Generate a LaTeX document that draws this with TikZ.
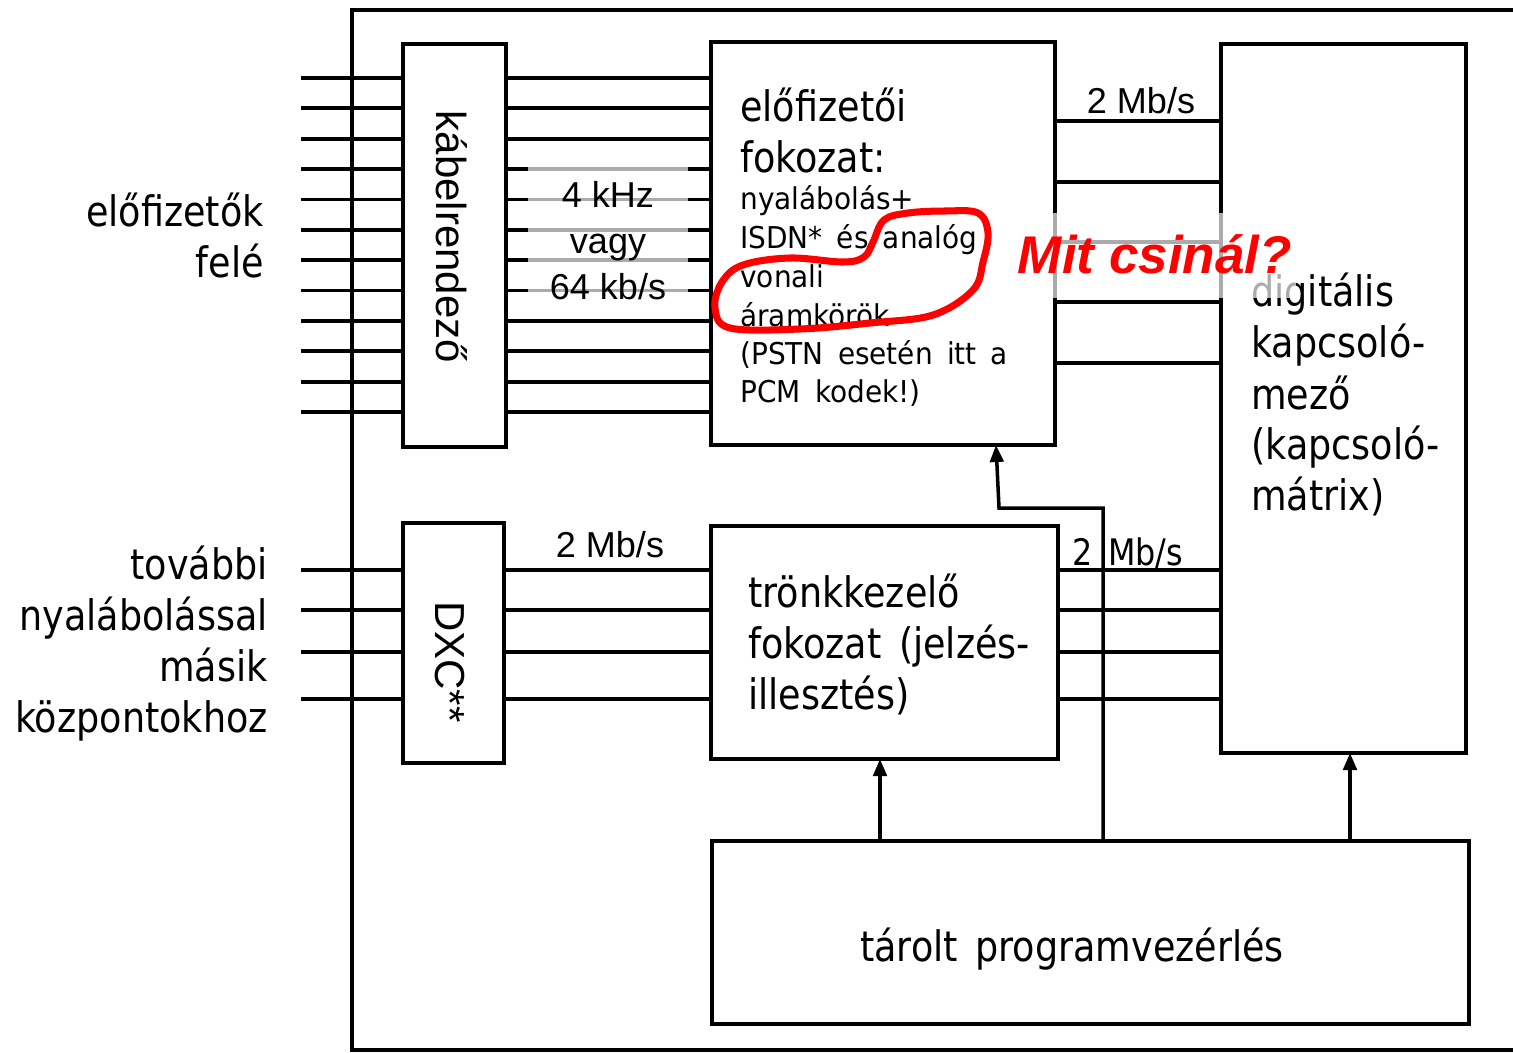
\documentclass[tikz,border=0pt]{standalone}
\usepackage{fontspec}
\newfontfamily\tah[FakeStretch=0.87,WordSpace=1.5]{DejaVu Sans}
\newfontfamily\tahs[FakeStretch=0.93,WordSpace=1.6]{DejaVu Sans}
\newfontfamily\ari{Liberation Sans}
\usetikzlibrary{arrows.meta}
\def\pxu{0.02cm}
\begin{document}
\begin{tikzpicture}[x=0.02cm, y=-0.02cm,
  ln/.style={line width=2.2pt},
  blk/.style={draw, line width=2.2pt, inner sep=0pt, outer sep=0pt, fill=white},
  arr/.style={line width=2pt, -{Triangle[length=0.34cm,width=0.27cm]}},
  veil/.style={fill=white, fill opacity=0.67, inner sep=0pt, outer sep=0pt},
  big/.style={inner sep=0pt, font=\tah\fontsize{23.9}{29}\selectfont},
  small/.style={inner sep=0pt, font=\tahs\fontsize{17.1}{21.9}\selectfont},
  lab/.style={inner sep=0pt, font=\ari\fontsize{20.5}{26}\selectfont},
  rot/.style={inner sep=0pt, font=\ari\fontsize{23.9}{29}\selectfont, rotate=-90, anchor=base},
  mit/.style={inner sep=0pt, text=red, font=\ari\bfseries\itshape\fontsize{30.2}{36}\selectfont}
]
\useasboundingbox (0,0) rectangle (1513,1052);
\clip (0,0) rectangle (1513,1052);

% outer frame
\draw[ln] (1540,10) -- (352,10) -- (352,1050) -- (1540,1050);

% blocks
\node[blk, minimum width=103*\pxu, minimum height=403*\pxu] (kab) at (454.5,245.5) {};
\node[blk, minimum width=344*\pxu, minimum height=403*\pxu] (sub) at (883,243.5) {};
\node[blk, minimum width=245*\pxu, minimum height=709*\pxu] (dig) at (1343.5,398.5) {};
\node[blk, minimum width=101*\pxu, minimum height=240*\pxu] (dxc) at (453.5,643) {};
\node[blk, minimum width=347*\pxu, minimum height=233*\pxu] (trk) at (884.5,642.5) {};
\node[blk, minimum width=757*\pxu, minimum height=183*\pxu] (prog) at (1090.5,932.5) {};

% subscriber lines
\foreach \i in {0,...,11}{
  \coordinate (L\i) at (301,{78+30.36*\i});
  \draw[ln] (L\i) -- (L\i -| kab.west);
  \draw[ln] (L\i -| kab.east) -- (L\i -| sub.west);
}
\foreach \y [count=\k] in {121,182,242,302,363}{
  \coordinate (R\k) at (1100,\y);
  \draw[ln] (R\k -| sub.east) -- (R\k -| dig.west);
}
\foreach \y [count=\k] in {570,610,652,699}{
  \coordinate (T\k) at (301,\y);
  \draw[ln] (T\k) -- (T\k -| dxc.west);
  \draw[ln] (T\k -| dxc.east) -- (T\k -| trk.west);
  \draw[ln] (T\k -| trk.east) -- (T\k -| dig.west);
}

% control arrows
\coordinate (A1) at (880,800);
\coordinate (A2) at (1350,800);
\draw[arr] (A1 |- prog.north) -- (A1 |- trk.south);
\draw[arr] (A2 |- prog.north) -- (A2 |- dig.south);
\coordinate (B1) at (1103,508);
\coordinate (B2) at (999,508);
\coordinate (B3) at (996,470);
\draw[arr] (B1 |- prog.north) -- (B1) -- (B2) -- (B3 |- sub.south);

% texts: left
\node[big, anchor=base east] (lf1) at (264,226) {előfizetők};
\node[big, anchor=base east] (lf2) at (264,277) {felé};
\node[big, anchor=base east] (lt1) at (268,579) {további};
\node[big, anchor=base east] (lt2) at (268,630) {nyalábolással};
\node[big, anchor=base east] (lt3) at (268,681) {másik};
\node[big, anchor=base east] (lt4) at (268,732) {központokhoz};

% rotated labels
\node[rot] (kabT) at (436,237) {kábelrendező};
\node[rot] (dxcT) at (435,662) {DXC**};

% 4 kHz veil and labels
\node[veil, minimum width=160*\pxu, minimum height=160*\pxu] (veilA) at (608,230) {};
\node[lab, anchor=base] (k1) at (608,207) {4 kHz};
\node[lab, anchor=base] (k2) at (608,253) {vagy};
\node[lab, anchor=base] (k3) at (608,299) {64 kb/s};

% rates
\node[lab, anchor=base] (r1) at (1141,113) {2 Mb/s};
\node[lab, anchor=base] (r2) at (610,557) {2 Mb/s};
\node[inner sep=0pt, font=\tah\fontsize{20.8}{26}\selectfont, anchor=base] (r3) at (1128,565) {2 Mb/s};

% subscriber stage text
\node[big, anchor=base west] (sb1) at (740,121) {előfizetői};
\node[big, anchor=base west] (sb2) at (740,172) {fokozat:};
\node[small, anchor=base west] (ss1) at (740,209) {nyalábolás+};
\node[small, anchor=base west] (ss2) at (740,248) {ISDN* és analóg};
\node[small, anchor=base west] (ss3) at (740,287) {vonali};
\node[small, anchor=base west] (ss4) at (740,326) {áramkörök};
\node[small, anchor=base west] (ss5) at (740,364) {(PSTN esetén itt a};
\node[small, anchor=base west] (ss6) at (740,402) {PCM kodek!)};

% digital switch text
\node[big, anchor=base west] (dg1) at (1251,306) {digitális};
\node[big, anchor=base west] (dg2) at (1251,357) {kapcsoló-};
\node[big, anchor=base west] (dg3) at (1251,409) {mező};
\node[big, anchor=base west] (dg4) at (1251,459) {(kapcsoló-};
\node[big, anchor=base west] (dg5) at (1251,510) {mátrix)};

% trunk text
\node[big, anchor=base west] (tk1) at (748,607) {trönkkezelő};
\node[big, anchor=base west] (tk2) at (748,658) {fokozat (jelzés-};
\node[big, anchor=base west] (tk3) at (748,709) {illesztés)};

% program control text
\node[big, anchor=base] (pg) at (1072,961) {tárolt programvezérlés};

% red loop
\draw[red, line width=4pt, line join=round] plot[smooth cycle, tension=0.6] coordinates {
  (884,220) (908,213) (945,211) (978,213) (988,233) (983,262) (973,290)
  (933,315) (870,323) (800,329) (730,328) (715,308) (722,282) (743,265)
  (790,258) (843,262) (864,257) (873,242)};

% question
\node[veil, minimum width=284*\pxu, minimum height=85*\pxu] (veilB) at (1154,255.5) {};
\node[mit, anchor=base] (q) at (1155,273) {Mit csinál?};
\end{tikzpicture}
\end{document}
